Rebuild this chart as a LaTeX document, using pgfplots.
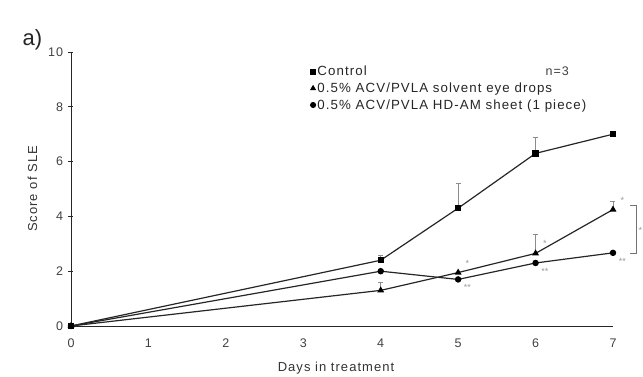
\documentclass[border=0pt]{standalone}
\usepackage{pgfplots}
\pgfplotsset{compat=1.18}
\usepackage{fontspec}
\setmainfont{Liberation Sans}
\newfontfamily\wide[LetterSpace=8]{Liberation Sans}
\begin{document}
\begin{tikzpicture}
\begin{axis}[
  scale only axis, width=542pt, height=274pt,
  xmin=0, xmax=7, ymin=0, ymax=10,
  axis x line*=bottom, axis y line*=left,
  axis line style={black!85, line width=0.9pt},
  xtick={0,...,7}, ytick={0,2,...,10},
  x tick style={draw=none},
  y tick style={black!85, line width=0.6pt},
  major tick length=5pt,
  tick align=center,
  extra x ticks={4,5,6,7}, extra x tick labels={},
  extra x tick style={tick align=inside, major tick length=4pt, tick style={draw=black!70, line width=0.5pt}},
  tick label style={font=\wide\fontsize{12.5}{14}\selectfont, text=black!75},
  /pgf/number format/assume math mode=true,
  xticklabel style={yshift=-7pt},
  yticklabel style={xshift=-2pt},
  xlabel={Days in treatment}, ylabel={Score of SLE},
  label style={font=\wide\fontsize{13}{15}\selectfont, text=black!80},
  xlabel style={yshift=-5pt, xshift=-6pt},
  ylabel style={yshift=4pt},
  clip=false,
  legend style={at={(rel axis cs:0.44,0.96)}, anchor=north west, draw=none, fill=none,
    font=\wide\fontsize{13.3}{15}\selectfont, text=black!85, row sep=1.5pt, inner sep=1pt,
    /tikz/every even column/.append style={column sep=0pt}},
  legend cell align=left,
  legend image code/.code={\draw[#1,mark size=2.4pt] plot coordinates {(0.15cm,0)};},
  error bars/y dir=plus, error bars/y explicit,
  error bars/error bar style={black!45, line width=0.9pt},
  error bars/error mark options={rotate=90, mark size=2.5pt, black!45},
]
\addplot[line width=1.2pt, black!85, mark=square*, mark size=2.6pt, mark options={solid, fill=black, draw=black}] coordinates {
  (0,0) +- (0,0)
  (4,2.4) +- (0,0.2)
  (5,4.3) +- (0,0.9)
  (6,6.3) +- (0,0.6)
  (7,7.0) +- (0,0)
};
\addlegendentry{Control}
\addplot[line width=1.2pt, black!85, mark=triangle*, mark size=2.8pt, mark options={solid, fill=black, draw=black}] coordinates {
  (0,0) +- (0,0)
  (4,1.3) +- (0,0.3)
  (5,1.95) +- (0,0)
  (6,2.65) +- (0,0.7)
  (7,4.25) +- (0,0.3)
};
\addlegendentry{0.5\% ACV/PVLA solvent eye drops}
\addplot[line width=1.2pt, black!85, mark=*, mark size=2.6pt, mark options={solid, fill=black, draw=black}] coordinates {
  (0,0) +- (0,0)
  (4,2.0) +- (0,0)
  (5,1.7) +- (0,0)
  (6,2.3) +- (0,0)
  (7,2.67) +- (0,0)
};
\addlegendentry{0.5\% ACV/PVLA HD-AM sheet (1 piece)}
% significance annotations
\begin{scope}[font=\fontsize{9}{10}\selectfont, text=black!40]
\node at (axis cs:5.12,2.3) {*};
\node at (axis cs:5.12,1.4) {**};
\node at (axis cs:6.12,3.0) {*};
\node at (axis cs:6.12,2.0) {**};
\node at (axis cs:7.12,4.6) {*};
\node at (axis cs:7.12,2.35) {**};
\node[anchor=west, inner sep=0pt] at (axis cs:7.33,3.5) {*};
\end{scope}
\draw[black!55, line width=0.7pt] (axis cs:7.22,4.4) -- (axis cs:7.3,4.4) -- (axis cs:7.3,2.65) -- (axis cs:7.22,2.65);
\node[anchor=north east, font=\wide\fontsize{12.5}{14}\selectfont, text=black!75] at (rel axis cs:0.925,0.96) {n=3};
\end{axis}
\node[anchor=west, font=\fontsize{22}{24}\selectfont, text=black!85] at (-52pt,286pt) {a)};
\pgfresetboundingbox
\path (-71pt,-51pt) rectangle (572pt,326pt);
\end{tikzpicture}
\end{document}
